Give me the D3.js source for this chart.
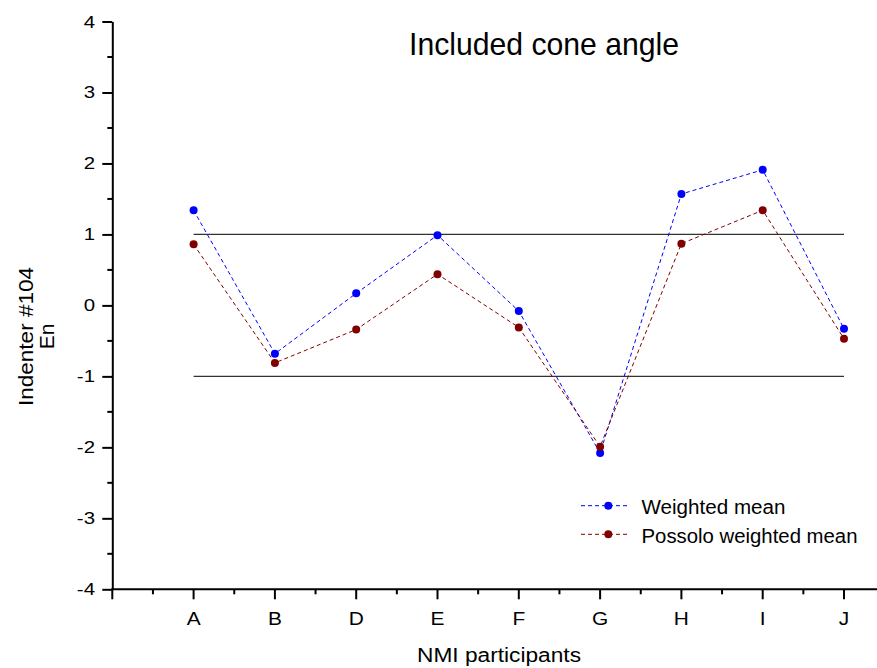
<!DOCTYPE html>
<html><head><meta charset="utf-8">
<script src="https://cdn.jsdelivr.net/npm/d3@7"></script>
<style>body{margin:0;background:#fff}svg{display:block;font-family:Arial,"Liberation Sans",sans-serif}</style>
</head><body>
<svg id="c" width="877" height="668"></svg>
<script>
const categories = ["A","B","D","E","F","G","H","I","J"];
const weightedMean = [1.34,-0.68,0.17,0.99,-0.08,-2.08,1.57,1.91,-0.33];
const possoloMean = [0.86,-0.81,-0.34,0.44,-0.31,-1.99,0.87,1.34,-0.47];
const yTicks = [-4,-3,-2,-1,0,1,2,3,4];
const refLines = [1,-1];

const svg = d3.select("#c");
const x0 = 112.3, step = 81.3;
const x = d3.scaleLinear().domain([0, 9]).range([x0, x0 + 9*step]);
const y = d3.scaleLinear().domain([-4, 4]).range([589.3, 21.5]);

function txt(parent, tx, ty, str, size, anchor, sx, len) {
  const t = parent.append("text")
    .attr("transform", `translate(${tx},${ty}) scale(${sx||1},1)`)
    .attr("text-anchor", anchor || "start")
    .style("font-size", size + "px").attr("fill", "#000").text(str);
  if (len) t.attr("textLength", len).attr("lengthAdjust", "spacingAndGlyphs");
  return t;
}

// y axis
const yAxis = d3.axisLeft(y).tickValues(yTicks).tickSize(10).tickSizeOuter(0).tickFormat("");
const gy = svg.append("g").attr("transform", `translate(${x0},0)`).call(yAxis);
const yMinor = d3.range(-3.5, 4, 1);
gy.selectAll(".minor").data(yMinor).enter().append("line")
  .attr("x1",-5).attr("x2",0).attr("y1",d=>y(d)).attr("y2",d=>y(d));
gy.selectAll("line,path").attr("stroke","#000").attr("stroke-width",2);
yTicks.forEach(v => txt(svg, 95, y(v) + 6, String(v), 17, "end", 1.2));

// x axis
const xEnd = 877;
const gx = svg.append("g").attr("transform", `translate(0,${y(-4)})`);
gx.append("line").attr("x1",x0-1).attr("x2",xEnd).attr("stroke","#000").attr("stroke-width",2);
const majors = d3.range(0, 10);
gx.selectAll(".maj").data(majors).enter().append("line")
  .attr("x1",d=>x(d)).attr("x2",d=>x(d)).attr("y1",0).attr("y2",10).attr("stroke","#000").attr("stroke-width",2);
const minors = d3.range(0.5, 9.5, 1);
gx.selectAll(".min").data(minors).enter().append("line")
  .attr("x1",d=>x(d)).attr("x2",d=>x(d)).attr("y1",0).attr("y2",5).attr("stroke","#000").attr("stroke-width",2);
categories.forEach((c,i) => txt(svg, x(i+1), 625, c, 19, "middle", 1.1));

// reference lines
svg.selectAll(".ref").data(refLines).enter().append("line")
  .attr("x1",x(1)).attr("x2",x(9)).attr("y1",d=>y(d)).attr("y2",d=>y(d))
  .attr("stroke","#333").attr("stroke-width",1.2);

const series = [
  {name:"Weighted mean", values: weightedMean, color:"#0000ff", len:144},
  {name:"Possolo weighted mean", values: possoloMean, color:"#800000", len:216}
];
const line = d3.line().x((d,i)=>x(i+1)).y(d=>y(d));
series.forEach(s=>{
  svg.append("path").datum(s.values).attr("d",line).attr("fill","none")
    .attr("stroke",s.color).attr("stroke-width",1).attr("stroke-dasharray","4,3");
  svg.selectAll(null).data(s.values).enter().append("circle")
    .attr("cx",(d,i)=>x(i+1)).attr("cy",d=>y(d)).attr("r",4).attr("fill",s.color);
});

// legend
series.forEach((s,i)=>{
  const ly = 505.7 + i*28.6;
  svg.append("line").attr("x1",581).attr("x2",628).attr("y1",ly).attr("y2",ly)
    .attr("stroke",s.color).attr("stroke-width",1).attr("stroke-dasharray","4,3");
  svg.append("circle").attr("cx",608.3).attr("cy",ly).attr("r",4).attr("fill",s.color);
  txt(svg, 641.5, ly + 8.5, s.name, 19.5, "start", 1, s.len);
});

// titles
txt(svg, 409, 55, "Included cone angle", 30.5, "start", 1, 270);
txt(svg, 417, 662, "NMI participants", 20, "start", 1, 164);
const yt = svg.append("g").attr("transform","translate(33,336.5) rotate(-90)");
txt(yt, 0, 0, "Indenter #104", 21, "middle", 1, 139);
txt(yt, 0, 21, "En", 21, "middle", 1);
</script>
</body></html>
